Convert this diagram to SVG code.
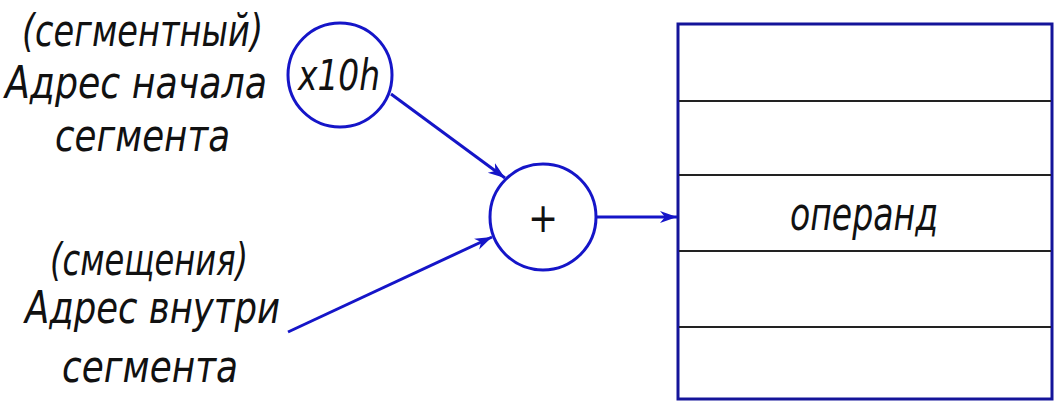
<svg xmlns="http://www.w3.org/2000/svg" width="1054" height="401" viewBox="0 0 1054 401">
<style>
.lbl{font-family:"DejaVu Sans Condensed","DejaVu Sans",sans-serif;font-style:italic;font-size:44px;fill:#111;}
.circ{fill:none;stroke:#1515c8;stroke-width:3;}
.conn{stroke:#1515c8;stroke-width:3;fill:none;}
.row{stroke:#222;stroke-width:2;}
</style>
<defs>
<marker id="arr" markerUnits="userSpaceOnUse" markerWidth="20" markerHeight="14" refX="17" refY="7" orient="auto">
<path d="M0,1 L17,7 L0,13 L5,7 Z" fill="#1515c8"/>
</marker>
</defs>
<rect width="1054" height="401" fill="#fff"/>
<g id="label-segment">
<text class="lbl" x="22" y="46" textLength="241" lengthAdjust="spacingAndGlyphs">(сегментный)</text>
<text class="lbl" x="5" y="98" textLength="262" lengthAdjust="spacingAndGlyphs">Адрес начала</text>
<text class="lbl" x="55" y="151" textLength="175" lengthAdjust="spacingAndGlyphs">сегмента</text>
</g>
<g id="label-offset">
<text class="lbl" x="50" y="275" textLength="198" lengthAdjust="spacingAndGlyphs">(смещения)</text>
<text class="lbl" x="25" y="323" textLength="255" lengthAdjust="spacingAndGlyphs">Адрес внутри</text>
<text class="lbl" x="62" y="382" textLength="176" lengthAdjust="spacingAndGlyphs">сегмента</text>
</g>
<g id="node-x10h">
<circle class="circ" cx="340" cy="75" r="52"/>
<text class="lbl" x="298" y="90" textLength="82" lengthAdjust="spacingAndGlyphs" style="font-size:42px">x10h</text>
</g>
<g id="node-plus">
<circle class="circ" cx="543" cy="217" r="53"/>
<text class="lbl" x="543" y="232" text-anchor="middle" style="font-size:40px">+</text>
</g>
<g id="node-memory">
<rect x="678" y="24" width="374" height="375" fill="none" stroke="#14149a" stroke-width="3"/>
<line class="row" x1="679" y1="101" x2="1051" y2="101"/>
<line class="row" x1="679" y1="175" x2="1051" y2="175"/>
<line class="row" x1="679" y1="251" x2="1051" y2="251"/>
<line class="row" x1="679" y1="327" x2="1051" y2="327"/>
<text class="lbl" x="790" y="230" textLength="148" lengthAdjust="spacingAndGlyphs" style="font-size:46px">операнд</text>
</g>
<g id="connectors">
<line class="conn" x1="391" y1="94" x2="505" y2="178" marker-end="url(#arr)"/>
<line class="conn" x1="288" y1="332" x2="492" y2="237" marker-end="url(#arr)"/>
<line class="conn" x1="597" y1="217" x2="677" y2="217" marker-end="url(#arr)"/>
</g>
</svg>
